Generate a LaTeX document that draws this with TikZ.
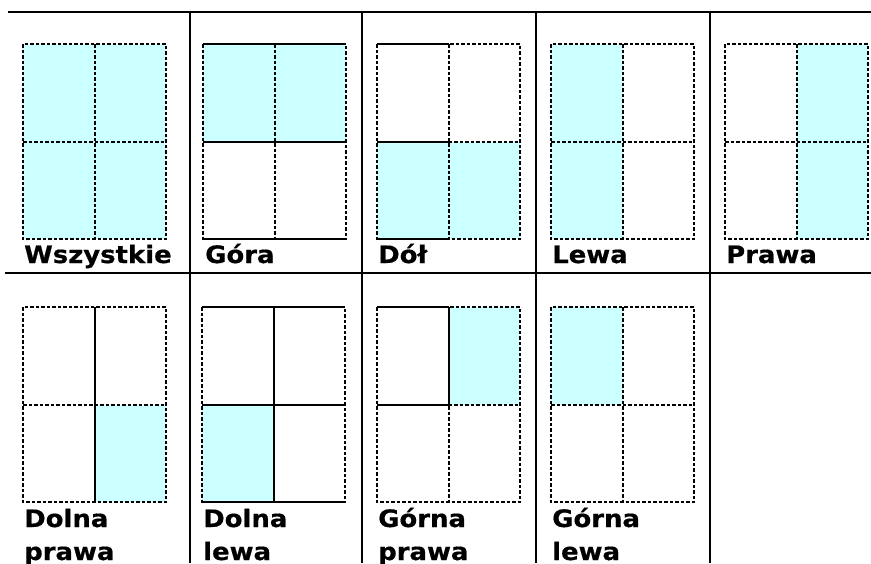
\documentclass[tikz,border=0pt]{standalone}
\usepackage{fontspec}
\newfontfamily\labelfont{DejaVu Sans}[FakeStretch=1.08, BoldFeatures={FakeBold=0.6}]
\definecolor{paneblue}{HTML}{CCFFFF}

% one page pane: #1,#2 top left corner, #3 shading, #4 solid edges
\newcommand{\pane}[4]{%
 \begin{scope}[shift={(#1,#2)}]
  #3
  \draw[cellline] (0,0) rectangle (143,195) (71.5,0) -- (71.5,195) (0,97.5) -- (143,97.5);
  #4
 \end{scope}}

\tikzset{
 rule/.style={line width=2.4pt},
 cellline/.style={line width=2pt, dash pattern=on 3.5pt off 2pt},
 cellsolid/.style={line width=2pt},
 shade/.style={fill=paneblue},
 caption/.style={anchor=base west, inner sep=0pt, align=left,
   font=\labelfont\bfseries\fontsize{24}{33}\selectfont},
}

\begin{document}
\begin{tikzpicture}[x=1pt,y=-1pt]
 \useasboundingbox (0,0) rectangle (871,563);

 % table rules
 \draw[rule] (8,12) -- (871,12);
 \draw[rule] (5,273) -- (871,273);
 \foreach \x in {190,362,536,710}
   \draw[rule] (\x,12) -- (\x,563);

 % top row
 \pane{23}{44}{\fill[shade] (0,0) rectangle (143,195);}{}
 \pane{203}{44}{\fill[shade] (0,0) rectangle (143,97.5);}
   {\draw[cellsolid] (0,0) -- (143,0) (0,97.5) -- (143,97.5) (0,195) -- (143,195);}
 \pane{377}{44}{\fill[shade] (0,97.5) rectangle (143,195);}
   {\draw[cellsolid] (0,0) -- (71.5,0) (0,97.5) -- (71.5,97.5) (0,195) -- (71.5,195);}
 \pane{551}{44}{\fill[shade] (0,0) rectangle (71.5,195);}{}
 \pane{725}{44}{\fill[shade] (71.5,0) rectangle (143,195);}{}

 % bottom row
 \pane{23}{307}{\fill[shade] (71.5,97.5) rectangle (143,195);}
   {\draw[cellsolid] (71.5,0) -- (71.5,195);}
 \pane{202}{307}{\fill[shade] (0,97.5) rectangle (71.5,195);}
   {\draw[cellsolid] (0,0) -- (143,0) (0,97.5) -- (143,97.5) (0,195) -- (143,195) (71.5,0) -- (71.5,195);}
 \pane{377}{307}{\fill[shade] (71.5,0) rectangle (143,97.5);}
   {\draw[cellsolid] (0,0) -- (71.5,0) (0,97.5) -- (71.5,97.5) (71.5,0) -- (71.5,97.5);}
 \pane{551}{307}{\fill[shade] (0,0) rectangle (71.5,97.5);}{}

 % captions
 \node[caption] (all) at (24,263) {Wszystkie};
 \node[caption] (top) at (205,263) {Góra};
 \node[caption] (bottom) at (378,263) {Dół};
 \node[caption] (left) at (552,263) {Lewa};
 \node[caption] (right) at (726,263) {Prawa};
 \node[caption] (botright) at (24,560) {Dolna\\prawa};
 \node[caption] (botleft) at (203,560) {Dolna\\lewa};
 \node[caption] (topright) at (378,560) {Górna\\prawa};
 \node[caption] (topleft) at (552,560) {Górna\\lewa};
\end{tikzpicture}
\end{document}
